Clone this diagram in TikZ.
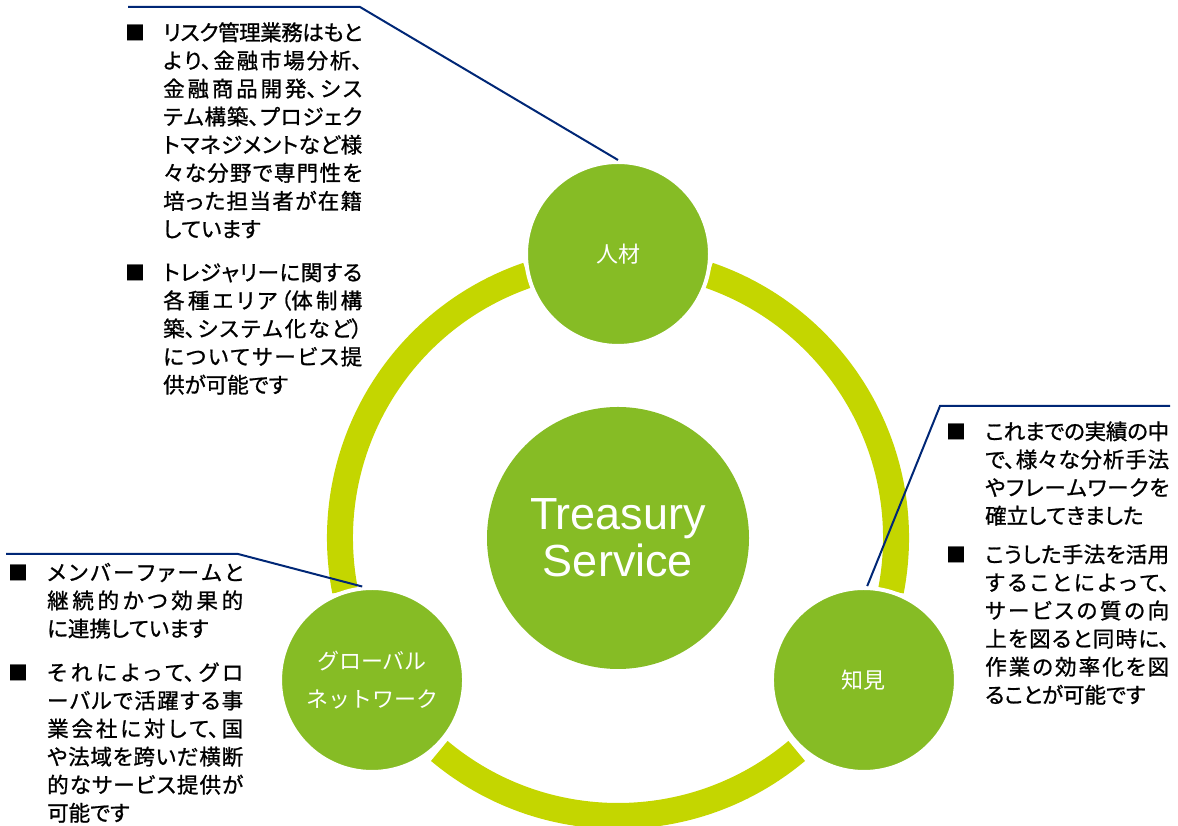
\documentclass[tikz,border=0pt]{standalone}
\usepackage{fontspec}
\setmainfont{Liberation Sans}
\newfontfamily\jp[RawFeature=+palt, FakeBold=1]{Noto Sans CJK JP}
\newfontfamily\jplabel{Noto Sans CJK JP}
\XeTeXlinebreaklocale "ja"
\XeTeXlinebreakskip=0pt plus 12pt minus 1pt
\definecolor{leaf}{RGB}{134,188,37}
\definecolor{lime}{RGB}{196,214,0}
\definecolor{navy}{RGB}{0,39,118}
\newcommand{\bodytext}[2]{\parbox[t]{#1}{\jp\fontsize{21.5}{28.1}\selectfont\tolerance=10000 #2\par}}
\tikzset{
  ringarc/.style={draw=lime, line width=26pt, line cap=butt},
  hub/.style={circle, fill=leaf, minimum size=262pt, inner sep=0pt, text=white,
    font=\fontsize{45}{47}\selectfont, align=center},
  sat/.style={circle, fill=leaf, draw=white, line width=4pt, minimum size=184pt,
    inner sep=0pt, text=white, font=\jplabel\fontsize{22}{38}\selectfont, align=center},
  callout/.style={draw=navy, line width=2pt},
  bul/.style={inner sep=0pt, anchor=base, font=\jplabel\fontsize{20}{28}\selectfont},
  para/.style={inner sep=0pt, anchor=base west}
}
\begin{document}
\begin{tikzpicture}[x=1pt, y=1pt]
\useasboundingbox (0,0) rectangle (1178,826);
\coordinate (c) at (618,288);
% ring arcs
\draw[ringarc] (c) ++(109:278pt) arc[start angle=109, end angle=191, radius=278pt];
\draw[ringarc] (c) ++(230:278pt) arc[start angle=230, end angle=310, radius=278pt];
\draw[ringarc] (c) ++(-11:278pt) arc[start angle=-11, end angle=71, radius=278pt];
% circles
\node[hub] (hub) at (c) {Treasury\\Service};
\node[sat] (ren) at ([shift={(90:284pt)}]c) {人材};
\node[sat] (zhi) at ([shift={(-30:284pt)}]c) {知見};
\node[sat] (glob) at ([shift={(210:284pt)}]c) {グローバル\\ネットワーク};
% callout lines
\coordinate (t0) at (128,819); \coordinate (t1) at (360,819);
\draw[callout] (t0) -- (t1) -- (ren.north);
\coordinate (r0) at (1170,420); \coordinate (r1) at (940,420);
\draw[callout] (r0) -- (r1) -- (zhi.88);
\coordinate (l0) at (6,272); \coordinate (l1) at (238,272);
\draw[callout] (l0) -- (l1) -- (glob.96);
% top-left text
\node[bul] (tb1) at (135,785.5) {■};
\node[para] (tp1) at (163,785.5) {\bodytext{199pt}{リスク管理業務はもと\linebreak
より、金融市場分析、\linebreak
金融商品開発、シス\linebreak
テム構築、プロジェク\linebreak
トマネジメントなど様\linebreak
々な分野で専門性を\linebreak
培った担当者が在籍\linebreak
しています}};
\node[bul] (tb2) at (135,545.5) {■};
\node[para] (tp2) at (163,545.5) {\bodytext{199pt}{トレジャリーに関する\linebreak
各種エリア（体制構\linebreak
築、システム化など）\linebreak
についてサービス提\linebreak
供が可能です}};
% right text
\node[bul] (rb1) at (956,386.5) {■};
\node[para] (rp1) at (985,386.5) {\bodytext{184pt}{これまでの実績の中\linebreak
で、様々な分析手法\linebreak
やフレームワークを\linebreak
確立してきました}};
\node[bul] (rb2) at (956,263.5) {■};
\node[para] (rp2) at (985,263.5) {\bodytext{184pt}{こうした手法を活用\linebreak
することによって、\linebreak
サービスの質の向\linebreak
上を図ると同時に、\linebreak
作業の効率化を図\linebreak
ることが可能です}};
% left text
\node[bul] (lb1) at (19,245.5) {■};
\node[para] (lp1) at (47,245.5) {\bodytext{196pt}{メンバーファームと\linebreak
継続的かつ効果的\linebreak
に連携しています}};
\node[bul] (lb2) at (19,145.5) {■};
\node[para] (lp2) at (47,145.5) {\bodytext{196pt}{それによって、グロ\linebreak
ーバルで活躍する事\linebreak
業会社に対して、国\linebreak
や法域を跨いだ横断\linebreak
的なサービス提供が\linebreak
可能です}};
\end{tikzpicture}
\end{document}
